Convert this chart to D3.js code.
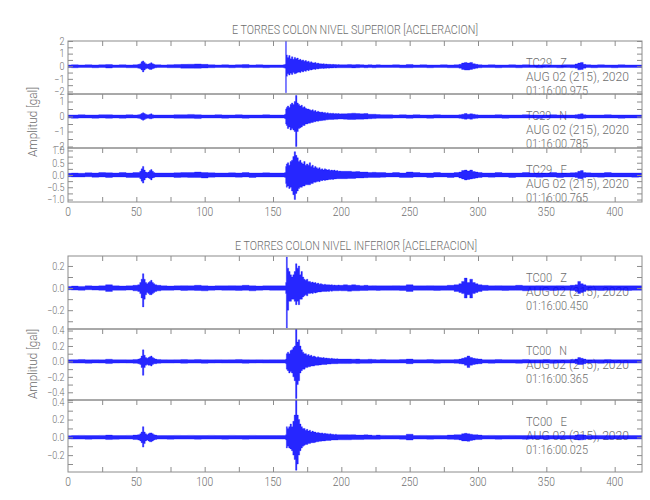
<!DOCTYPE html>
<html>
<head>
<meta charset="utf-8">
<script src="https://cdn.jsdelivr.net/npm/d3@7"></script>
<style>
  html, body { margin: 0; padding: 0; background: #fff; }
  svg { display: block; font-family: Roboto, "DejaVu Sans", sans-serif; font-weight: 300; }
  svg text { white-space: pre; }
</style>
</head>
<body>
<svg id="chart" width="650" height="500"></svg>
<script>
// ---------------- DATA ----------------
const topTitle = "E TORRES COLON NIVEL SUPERIOR [ACELERACION]";
const bottomTitle = "E TORRES COLON NIVEL INFERIOR [ACELERACION]";
const yAxisTitle = "Amplitud [gal]";
const stations = ["TC29   Z", "TC29   N", "TC29   E", "TC00   Z", "TC00   N", "TC00   E"];
const dateLabel = "AUG 02 (215), 2020";
const startTimes = ["01:16:00.975", "01:16:00.785", "01:16:00.765", "01:16:00.450", "01:16:00.365", "01:16:00.025"];
const xTickLabels = [0, 50, 100, 150, 200, 250, 300, 350, 400];
const xTickMarks = [25, 50, 75, 100, 125, 150, 175, 200, 225, 250, 275, 300, 325, 350, 375, 400];
const yDomains = [[-2.2, 2.0], [-2.1, 1.5], [-1.1, 1.1], [-0.37, 0.29], [-0.5, 0.42], [-0.39, 0.42]];
const yLabelTicks = [[-2, -1, 0, 1, 2], [-2, -1, 0, 1], [-1, -0.5, 0, 0.5, 1], [-0.2, 0, 0.2], [-0.4, -0.2, 0, 0.2, 0.4], [-0.2, 0, 0.2, 0.4]];
const yLabelDecimals = [0, 0, 1, 1, 1, 1];
const yMinorStep = [0.5, 0.5, 0.25, 0.1, 0.1, 0.1];

// time (s) of envelope samples, shared by all six traces
const timeGrid = [
  0,5,10,15,20,25,30,35,40,45,50,
  52,53,54,55,56,57,58,59,60,61,62,63,64,66,
  70,75,80,85,90,95,100,105,110,115,120,125,130,135,140,145,150,155,
  157,158,159,159.5,160,161,162,163,164,165,166,167,168,169,170,171,172,173,174,175,176,177,178,179,
  180,181,182,183,184,185,186,187,188,189,190,191,192,193,194,195,196,197,198,199,200,
  203,206,209,212,215,218,221,224,227,230,
  235,240,245,250,255,260,265,270,275,280,285,
  287,289,291,293,295,297,299,301,
  305,310,315,320,325,330,335,340,345,350,355,360,365,370,
  372,374,376,378,
  380,385,390,395,400,405,410,415,420
];

// upper / lower envelope (gal) of each trace
const tc29ZHi = [
  0.1,0.12,0.1,0.12,0.1,0.12,0.14,0.1,0.12,0.1,0.12,
  0.15,0.2,0.35,0.42,0.3,0.2,0.15,0.18,0.22,0.28,0.2,0.15,0.12,0.12,
  0.1,0.12,0.14,0.15,0.16,0.18,0.15,0.12,0.1,0.12,0.1,0.12,0.14,0.1,0.12,0.1,0.1,0.1,
  0.1,0.12,0.15,2.0,
  0.9,0.7,0.85,0.6,0.75,0.55,0.7,0.6,0.65,0.5,
  0.55,0.45,0.5,0.4,0.45,0.35,0.4,0.3,0.35,0.28,
  0.25,0.3,0.22,0.25,0.2,0.2,0.18,0.2,0.16,0.18,
  0.15,0.16,0.15,0.14,0.15,0.13,0.14,0.12,0.13,0.12,0.12,
  0.12,0.14,0.12,0.13,0.12,0.1,0.12,0.1,0.12,0.1,
  0.1,0.12,0.1,0.14,0.1,0.12,0.1,0.1,0.12,0.1,0.12,
  0.15,0.25,0.3,0.25,0.3,0.2,0.15,0.12,
  0.1,0.12,0.1,0.1,0.12,0.1,0.12,0.1,0.1,0.12,0.1,0.1,0.12,0.12,
  0.18,0.25,0.3,0.15,
  0.12,0.1,0.12,0.1,0.1,0.12,0.1,0.1,0.1
];
const tc29ZLo = [
  -0.1,-0.12,-0.1,-0.1,-0.12,-0.1,-0.14,-0.1,-0.1,-0.12,-0.12,
  -0.15,-0.2,-0.3,-0.45,-0.3,-0.2,-0.15,-0.2,-0.25,-0.25,-0.2,-0.15,-0.12,-0.1,
  -0.1,-0.12,-0.12,-0.15,-0.15,-0.16,-0.14,-0.12,-0.1,-0.1,-0.12,-0.1,-0.12,-0.1,-0.1,-0.12,-0.1,-0.1,
  -0.1,-0.12,-0.15,-2.1,
  -0.8,-0.6,-0.7,-0.55,-0.65,-0.5,-0.6,-0.55,-0.5,-0.45,
  -0.5,-0.4,-0.45,-0.35,-0.4,-0.3,-0.35,-0.28,-0.3,-0.25,
  -0.22,-0.25,-0.2,-0.22,-0.18,-0.18,-0.16,-0.18,-0.15,-0.16,
  -0.14,-0.15,-0.13,-0.14,-0.13,-0.12,-0.13,-0.12,-0.12,-0.12,-0.12,
  -0.12,-0.12,-0.13,-0.12,-0.1,-0.12,-0.1,-0.12,-0.1,-0.1,
  -0.1,-0.1,-0.12,-0.12,-0.1,-0.1,-0.12,-0.1,-0.1,-0.12,-0.12,
  -0.15,-0.25,-0.3,-0.3,-0.25,-0.2,-0.15,-0.12,
  -0.1,-0.1,-0.12,-0.1,-0.1,-0.12,-0.1,-0.1,-0.12,-0.1,-0.1,-0.12,-0.1,-0.12,
  -0.15,-0.28,-0.25,-0.15,
  -0.1,-0.12,-0.1,-0.1,-0.12,-0.1,-0.1,-0.1,-0.1
];
const tc29NHi = [
  0.1,0.1,0.12,0.1,0.1,0.12,0.12,0.1,0.1,0.12,0.1,
  0.12,0.15,0.2,0.25,0.2,0.15,0.12,0.12,0.15,0.18,0.12,0.1,0.1,0.1,
  0.1,0.1,0.12,0.12,0.14,0.12,0.1,0.1,0.12,0.1,0.1,0.12,0.1,0.1,0.1,0.12,0.1,0.1,
  0.1,0.1,0.15,0.5,
  0.6,0.7,0.6,0.8,0.9,0.8,1.0,1.4,0.9,0.8,
  0.7,0.75,0.6,0.65,0.55,0.5,0.5,0.45,0.4,0.45,
  0.35,0.4,0.3,0.35,0.3,0.28,0.3,0.25,0.27,0.22,
  0.25,0.2,0.22,0.2,0.22,0.18,0.2,0.18,0.2,0.17,0.18,
  0.18,0.2,0.22,0.2,0.18,0.2,0.15,0.15,0.13,0.12,
  0.12,0.1,0.12,0.1,0.12,0.1,0.1,0.12,0.1,0.1,0.1,
  0.12,0.15,0.2,0.15,0.18,0.15,0.12,0.1,
  0.1,0.1,0.12,0.1,0.1,0.1,0.12,0.1,0.1,0.1,0.12,0.1,0.1,0.1,
  0.12,0.15,0.18,0.12,
  0.1,0.1,0.1,0.12,0.1,0.1,0.1,0.1,0.1
];
const tc29NLo = [
  -0.1,-0.12,-0.1,-0.1,-0.12,-0.1,-0.12,-0.1,-0.12,-0.1,-0.1,
  -0.12,-0.15,-0.2,-0.25,-0.2,-0.15,-0.12,-0.12,-0.15,-0.15,-0.12,-0.1,-0.1,-0.1,
  -0.1,-0.1,-0.12,-0.12,-0.12,-0.14,-0.1,-0.1,-0.1,-0.12,-0.1,-0.1,-0.12,-0.1,-0.1,-0.1,-0.1,-0.1,
  -0.1,-0.1,-0.15,-0.5,
  -0.6,-0.8,-0.7,-0.9,-0.8,-0.9,-1.0,-2.0,-1.0,-0.8,
  -0.75,-0.7,-0.6,-0.6,-0.5,-0.5,-0.45,-0.45,-0.4,-0.4,
  -0.35,-0.35,-0.3,-0.32,-0.28,-0.28,-0.27,-0.25,-0.25,-0.22,
  -0.22,-0.2,-0.2,-0.2,-0.2,-0.18,-0.18,-0.18,-0.17,-0.17,-0.17,
  -0.18,-0.2,-0.2,-0.18,-0.18,-0.17,-0.15,-0.14,-0.12,-0.12,
  -0.12,-0.1,-0.1,-0.12,-0.1,-0.1,-0.12,-0.1,-0.1,-0.1,-0.1,
  -0.12,-0.15,-0.18,-0.15,-0.18,-0.14,-0.12,-0.1,
  -0.1,-0.1,-0.1,-0.12,-0.1,-0.1,-0.1,-0.1,-0.12,-0.1,-0.1,-0.1,-0.1,-0.1,
  -0.12,-0.15,-0.15,-0.12,
  -0.1,-0.1,-0.1,-0.1,-0.1,-0.12,-0.1,-0.1,-0.1
];
const tc29EHi = [
  0.07,0.08,0.07,0.09,0.08,0.1,0.09,0.08,0.1,0.08,0.1,
  0.1,0.15,0.25,0.35,0.2,0.12,0.1,0.12,0.18,0.22,0.15,0.1,0.08,0.08,
  0.08,0.08,0.09,0.1,0.1,0.12,0.1,0.09,0.08,0.08,0.09,0.08,0.1,0.08,0.08,0.09,0.08,0.08,
  0.08,0.08,0.1,0.35,
  0.45,0.5,0.4,0.55,0.6,0.75,0.95,0.8,0.7,0.55,
  0.6,0.5,0.45,0.55,0.4,0.45,0.4,0.5,0.35,0.4,
  0.3,0.35,0.3,0.25,0.3,0.22,0.25,0.2,0.25,0.22,
  0.2,0.22,0.18,0.2,0.18,0.2,0.16,0.18,0.15,0.16,0.15,
  0.15,0.15,0.13,0.14,0.12,0.12,0.1,0.11,0.1,0.1,
  0.08,0.1,0.08,0.12,0.1,0.08,0.08,0.1,0.08,0.08,0.1,
  0.12,0.18,0.2,0.16,0.2,0.14,0.12,0.1,
  0.08,0.08,0.1,0.08,0.08,0.08,0.1,0.08,0.08,0.08,0.1,0.08,0.08,0.09,
  0.1,0.15,0.18,0.1,
  0.09,0.08,0.08,0.1,0.08,0.08,0.08,0.08,0.08
];
const tc29ELo = [
  -0.07,-0.08,-0.08,-0.07,-0.09,-0.08,-0.1,-0.08,-0.08,-0.1,-0.1,
  -0.1,-0.15,-0.25,-0.33,-0.2,-0.12,-0.1,-0.12,-0.15,-0.2,-0.12,-0.1,-0.08,-0.08,
  -0.08,-0.08,-0.1,-0.09,-0.1,-0.1,-0.12,-0.09,-0.08,-0.08,-0.08,-0.09,-0.08,-0.1,-0.08,-0.08,-0.08,-0.08,
  -0.08,-0.08,-0.1,-0.35,
  -0.5,-0.45,-0.55,-0.5,-0.65,-0.8,-1.0,-0.75,-0.65,-0.55,
  -0.5,-0.5,-0.45,-0.45,-0.4,-0.4,-0.4,-0.4,-0.35,-0.35,
  -0.3,-0.3,-0.28,-0.25,-0.27,-0.22,-0.23,-0.2,-0.22,-0.2,
  -0.2,-0.18,-0.18,-0.17,-0.18,-0.16,-0.16,-0.15,-0.15,-0.15,-0.15,
  -0.15,-0.14,-0.14,-0.12,-0.12,-0.11,-0.1,-0.1,-0.1,-0.09,
  -0.08,-0.08,-0.1,-0.1,-0.08,-0.08,-0.1,-0.08,-0.08,-0.1,-0.08,
  -0.12,-0.16,-0.2,-0.18,-0.16,-0.14,-0.12,-0.1,
  -0.08,-0.09,-0.08,-0.08,-0.1,-0.08,-0.08,-0.08,-0.09,-0.08,-0.08,-0.1,-0.08,-0.08,
  -0.1,-0.14,-0.15,-0.1,
  -0.08,-0.08,-0.09,-0.08,-0.08,-0.08,-0.08,-0.09,-0.08
];
const tc00ZHi = [
  0.015,0.018,0.015,0.02,0.018,0.02,0.03,0.02,0.018,0.02,0.025,
  0.03,0.05,0.08,0.13,0.08,0.05,0.04,0.05,0.06,0.07,0.05,0.04,0.03,0.025,
  0.02,0.018,0.02,0.022,0.02,0.025,0.02,0.018,0.02,0.02,0.022,0.02,0.025,0.02,0.018,0.02,0.02,0.02,
  0.02,0.02,0.02,0.05,
  0.28,0.18,0.15,0.12,0.1,0.12,0.15,0.22,0.18,0.2,
  0.12,0.15,0.1,0.08,0.07,0.08,0.06,0.06,0.05,0.055,
  0.045,0.05,0.04,0.045,0.035,0.04,0.035,0.03,0.035,0.03,
  0.03,0.03,0.028,0.03,0.025,0.028,0.025,0.025,0.028,0.025,0.025,
  0.03,0.025,0.03,0.025,0.022,0.025,0.02,0.022,0.02,0.02,
  0.02,0.022,0.02,0.03,0.02,0.02,0.022,0.02,0.02,0.025,0.03,
  0.04,0.06,0.09,0.05,0.08,0.05,0.04,0.03,
  0.025,0.02,0.022,0.02,0.02,0.025,0.02,0.02,0.022,0.02,0.02,0.022,0.02,0.025,
  0.03,0.06,0.04,0.03,
  0.022,0.02,0.02,0.022,0.02,0.02,0.02,0.02,0.02
];
const tc00ZLo = [
  -0.015,-0.018,-0.02,-0.015,-0.018,-0.02,-0.03,-0.02,-0.02,-0.018,-0.025,
  -0.03,-0.05,-0.09,-0.17,-0.1,-0.06,-0.04,-0.05,-0.06,-0.06,-0.05,-0.04,-0.03,-0.025,
  -0.02,-0.02,-0.018,-0.022,-0.02,-0.022,-0.025,-0.02,-0.018,-0.02,-0.02,-0.022,-0.02,-0.025,-0.02,-0.018,-0.02,-0.02,
  -0.02,-0.02,-0.02,-0.05,
  -0.36,-0.2,-0.12,-0.12,-0.1,-0.1,-0.12,-0.15,-0.12,-0.15,
  -0.1,-0.1,-0.08,-0.07,-0.06,-0.07,-0.05,-0.05,-0.045,-0.05,
  -0.04,-0.045,-0.04,-0.035,-0.035,-0.035,-0.03,-0.03,-0.03,-0.03,
  -0.028,-0.03,-0.025,-0.028,-0.025,-0.025,-0.025,-0.025,-0.025,-0.022,-0.025,
  -0.025,-0.028,-0.025,-0.025,-0.022,-0.022,-0.02,-0.02,-0.022,-0.02,
  -0.02,-0.02,-0.022,-0.03,-0.02,-0.02,-0.02,-0.022,-0.02,-0.02,-0.03,
  -0.04,-0.05,-0.09,-0.06,-0.09,-0.05,-0.04,-0.03,
  -0.022,-0.02,-0.02,-0.022,-0.02,-0.02,-0.025,-0.02,-0.02,-0.02,-0.022,-0.02,-0.02,-0.022,
  -0.03,-0.05,-0.04,-0.03,
  -0.02,-0.02,-0.022,-0.02,-0.02,-0.02,-0.022,-0.02,-0.02
];
const tc00NHi = [
  0.02,0.022,0.025,0.02,0.022,0.02,0.028,0.022,0.022,0.02,0.025,
  0.03,0.04,0.07,0.15,0.08,0.05,0.04,0.05,0.06,0.07,0.05,0.04,0.03,0.025,
  0.022,0.02,0.022,0.025,0.022,0.025,0.022,0.02,0.022,0.02,0.022,0.025,0.022,0.02,0.022,0.02,0.022,0.022,
  0.022,0.022,0.022,0.03,
  0.1,0.12,0.1,0.14,0.15,0.18,0.2,0.42,0.25,0.28,
  0.2,0.15,0.12,0.1,0.1,0.08,0.09,0.07,0.08,0.06,
  0.07,0.06,0.05,0.06,0.05,0.05,0.045,0.05,0.04,0.045,
  0.04,0.04,0.035,0.04,0.035,0.035,0.03,0.035,0.03,0.03,0.03,
  0.03,0.03,0.028,0.03,0.025,0.025,0.028,0.025,0.022,0.025,
  0.022,0.022,0.025,0.03,0.022,0.022,0.025,0.022,0.022,0.022,0.025,
  0.03,0.04,0.05,0.07,0.05,0.04,0.035,0.03,
  0.022,0.022,0.025,0.022,0.022,0.022,0.025,0.022,0.022,0.025,0.022,0.022,0.022,0.025,
  0.03,0.05,0.04,0.03,
  0.022,0.022,0.022,0.025,0.022,0.022,0.022,0.022,0.022
];
const tc00NLo = [
  -0.02,-0.022,-0.022,-0.025,-0.02,-0.022,-0.028,-0.022,-0.02,-0.022,-0.025,
  -0.03,-0.04,-0.08,-0.18,-0.08,-0.05,-0.04,-0.05,-0.05,-0.06,-0.04,-0.03,-0.03,-0.025,
  -0.022,-0.022,-0.02,-0.025,-0.022,-0.022,-0.025,-0.022,-0.02,-0.022,-0.022,-0.022,-0.025,-0.022,-0.02,-0.022,-0.022,-0.022,
  -0.022,-0.022,-0.022,-0.03,
  -0.1,-0.12,-0.15,-0.13,-0.15,-0.2,-0.25,-0.48,-0.3,-0.25,
  -0.15,-0.12,-0.1,-0.1,-0.08,-0.08,-0.07,-0.07,-0.06,-0.06,
  -0.06,-0.05,-0.05,-0.05,-0.045,-0.045,-0.04,-0.04,-0.04,-0.04,
  -0.035,-0.035,-0.035,-0.03,-0.03,-0.03,-0.03,-0.03,-0.028,-0.028,-0.028,
  -0.028,-0.028,-0.025,-0.028,-0.025,-0.025,-0.025,-0.022,-0.022,-0.022,
  -0.022,-0.022,-0.022,-0.03,-0.022,-0.022,-0.022,-0.025,-0.022,-0.022,-0.025,
  -0.03,-0.035,-0.05,-0.08,-0.05,-0.04,-0.035,-0.03,
  -0.022,-0.025,-0.022,-0.022,-0.022,-0.025,-0.022,-0.022,-0.022,-0.022,-0.025,-0.022,-0.022,-0.022,
  -0.03,-0.04,-0.04,-0.03,
  -0.022,-0.022,-0.025,-0.022,-0.022,-0.022,-0.022,-0.022,-0.022
];
const tc00EHi = [
  0.018,0.02,0.022,0.02,0.02,0.022,0.025,0.02,0.02,0.022,0.025,
  0.03,0.04,0.06,0.12,0.06,0.04,0.03,0.04,0.05,0.05,0.04,0.03,0.025,0.02,
  0.02,0.02,0.022,0.02,0.022,0.02,0.02,0.022,0.02,0.02,0.022,0.02,0.02,0.022,0.02,0.02,0.02,0.02,
  0.02,0.02,0.02,0.03,
  0.12,0.1,0.12,0.15,0.12,0.18,0.25,0.42,0.25,0.2,
  0.15,0.12,0.1,0.1,0.08,0.09,0.07,0.08,0.06,0.07,
  0.06,0.06,0.05,0.055,0.05,0.045,0.05,0.04,0.045,0.04,
  0.04,0.035,0.04,0.035,0.035,0.03,0.035,0.03,0.03,0.03,0.03,
  0.03,0.028,0.03,0.025,0.025,0.028,0.025,0.022,0.025,0.022,
  0.02,0.022,0.02,0.035,0.02,0.022,0.02,0.022,0.02,0.025,0.03,
  0.03,0.04,0.045,0.04,0.035,0.03,0.03,0.025,
  0.02,0.022,0.02,0.02,0.022,0.02,0.02,0.022,0.02,0.02,0.02,0.022,0.02,0.02,
  0.025,0.03,0.03,0.025,
  0.02,0.02,0.022,0.02,0.02,0.02,0.02,0.02,0.02
];
const tc00ELo = [
  -0.018,-0.02,-0.02,-0.022,-0.02,-0.02,-0.025,-0.022,-0.02,-0.02,-0.025,
  -0.03,-0.04,-0.06,-0.11,-0.07,-0.04,-0.03,-0.04,-0.05,-0.05,-0.04,-0.03,-0.025,-0.02,
  -0.02,-0.022,-0.02,-0.02,-0.02,-0.022,-0.02,-0.02,-0.02,-0.022,-0.02,-0.02,-0.022,-0.02,-0.02,-0.02,-0.02,-0.02,
  -0.02,-0.02,-0.02,-0.03,
  -0.12,-0.1,-0.12,-0.13,-0.15,-0.2,-0.25,-0.37,-0.3,-0.2,
  -0.15,-0.12,-0.1,-0.09,-0.08,-0.08,-0.07,-0.07,-0.06,-0.06,
  -0.06,-0.055,-0.05,-0.05,-0.045,-0.045,-0.04,-0.04,-0.04,-0.035,
  -0.035,-0.035,-0.035,-0.03,-0.03,-0.03,-0.03,-0.03,-0.028,-0.028,-0.028,
  -0.028,-0.028,-0.025,-0.025,-0.025,-0.022,-0.022,-0.022,-0.022,-0.02,
  -0.02,-0.02,-0.022,-0.03,-0.02,-0.02,-0.022,-0.02,-0.02,-0.022,-0.025,
  -0.03,-0.04,-0.04,-0.045,-0.035,-0.03,-0.025,-0.025,
  -0.02,-0.02,-0.022,-0.02,-0.02,-0.02,-0.022,-0.02,-0.02,-0.022,-0.02,-0.02,-0.02,-0.02,
  -0.025,-0.03,-0.028,-0.025,
  -0.02,-0.02,-0.02,-0.022,-0.02,-0.02,-0.02,-0.02,-0.02
];
const traceHi = [tc29ZHi, tc29NHi, tc29EHi, tc00ZHi, tc00NHi, tc00EHi];
const traceLo = [tc29ZLo, tc29NLo, tc29ELo, tc00ZLo, tc00NLo, tc00ELo];

// ---------------- DRAWING ----------------
const svg = d3.select("#chart");
const textColor = "#6e6e6e";
const axisColor = "#8c8c8c";
const traceColor = "#0000ff";

const x = d3.scaleLinear().domain([0, 420]).range([68, 642]);
const panelTops = [41, 94, 148, 256, 329, 400];
const panelBottoms = [94, 148, 202, 329, 400, 472];

function fitText(g, xPos, yPos, str, size, anchor, width) {
  const t = g.append("text")
    .attr("x", xPos).attr("y", yPos)
    .attr("font-size", size)
    .attr("text-anchor", anchor)
    .attr("fill", textColor)
    .attr("xml:space", "preserve")
    .text(str);
  if (width) t.attr("textLength", width).attr("lengthAdjust", "spacingAndGlyphs");
  return t;
}

// titles
fitText(svg, 355, 34, topTitle, 13.5, "middle", 246);
fitText(svg, 356, 250, bottomTitle, 13.5, "middle", 242);

// y axis titles
[[122, 37], [364, 37]].forEach(([cy, bx]) => {
  svg.append("text")
    .attr("transform", `translate(${bx},${cy}) rotate(-90)`)
    .attr("font-size", 13)
    .attr("text-anchor", "middle")
    .attr("fill", textColor)
    .attr("textLength", 70).attr("lengthAdjust", "spacingAndGlyphs")
    .text(yAxisTitle);
});

const defs = svg.append("defs");

for (let i = 0; i < 6; i++) {
  const top = panelTops[i], bottom = panelBottoms[i];
  const y = d3.scaleLinear().domain(yDomains[i]).range([bottom, top]);
  const g = svg.append("g");

  // station labels (beneath the trace)
  fitText(g, 526, top + 25.5, stations[i], 12.5, "start", 41);
  fitText(g, 526, top + 39.5, dateLabel, 12.5, "start", 103);
  fitText(g, 526, top + 54, startTimes[i], 12.5, "start", 62);

  // trace
  defs.append("clipPath").attr("id", "clip" + i)
    .append("rect").attr("x", x(0)).attr("y", top).attr("width", x(420) - x(0)).attr("height", bottom - top);
  const data = timeGrid.map((t, k) => ({ t: t, hi: traceHi[i][k], lo: traceLo[i][k] }))
    .filter(d => d.hi !== undefined && d.lo !== undefined);
  const area = d3.area().curve(d3.curveStep).x(d => x(d.t)).y0(d => y(d.lo)).y1(d => y(d.hi));
  g.append("path")
    .attr("clip-path", `url(#clip${i})`)
    .attr("d", area(data))
    .attr("fill", traceColor)
    .attr("fill-opacity", 0.85)
    .attr("stroke", traceColor)
    .attr("stroke-opacity", 0.5)
    .attr("stroke-width", 0.6);

  // y ticks
  const [d0, d1] = yDomains[i];
  const step = yMinorStep[i];
  const minor = d3.range(Math.ceil(d0 / step - 1e-9), Math.floor(d1 / step + 1e-9) + 1).map(k => +(k * step).toFixed(4));
  const leftAxis = d3.axisLeft(y).tickValues(minor).tickSizeInner(-5).tickSizeOuter(0).tickFormat("");
  const rightAxis = d3.axisRight(y).tickValues(minor).tickSizeInner(-5).tickSizeOuter(0).tickFormat("");
  const la = g.append("g").attr("transform", `translate(${x(0)},0)`).call(leftAxis);
  const ra = g.append("g").attr("transform", `translate(${x(420)},0)`).call(rightAxis);
  [la, ra].forEach(a => { a.select(".domain").remove(); a.selectAll("line").attr("stroke", axisColor); });

  // y tick labels
  yLabelTicks[i].forEach(v => {
    g.append("text")
      .attr("transform", `translate(64.5,${y(v) + 3.8}) scale(0.82,1)`)
      .attr("font-size", 11)
      .attr("text-anchor", "end")
      .attr("fill", textColor)
      .text(d3.format(`.${yLabelDecimals[i]}f`)(v).replace("-", "\u2212"));
  });

  // x ticks on top edge of each panel
  const ta = g.append("g").attr("transform", `translate(0,${top})`)
    .call(d3.axisTop(x).tickValues(xTickMarks).tickSizeInner(-5).tickSizeOuter(0).tickFormat(""));
  ta.select(".domain").remove();
  ta.selectAll("line").attr("stroke", axisColor);

  // frame
  g.append("rect").attr("x", x(0)).attr("y", top).attr("width", x(420) - x(0)).attr("height", bottom - top)
    .attr("fill", "none").attr("stroke", axisColor).attr("stroke-width", 1);

  // bottom axis with labels for last panel of each group
  if (i === 2 || i === 5) {
    const ba = g.append("g").attr("transform", `translate(0,${bottom})`)
      .call(d3.axisBottom(x).tickValues(xTickMarks).tickSizeInner(-5).tickSizeOuter(0).tickFormat(""));
    ba.select(".domain").remove();
    ba.selectAll("line").attr("stroke", axisColor);
    xTickLabels.forEach(v => {
      g.append("text")
        .attr("transform", `translate(${x(v)},${bottom + 14}) scale(0.82,1)`)
        .attr("font-size", 12.5)
        .attr("text-anchor", "middle")
        .attr("fill", textColor)
        .text(v);
    });
  }
}
</script>
</body>
</html>
